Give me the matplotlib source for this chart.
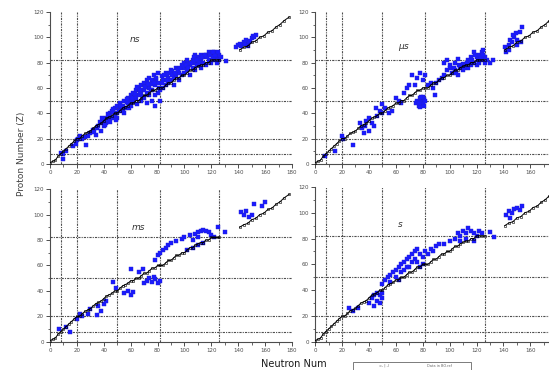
import matplotlib
matplotlib.use("Agg")
import matplotlib.pyplot as plt
from matplotlib.patches import Rectangle
from matplotlib.ticker import MultipleLocator

# magic numbers (dotted guide lines)
magic_n = [8, 20, 50, 82, 126]
magic_z = [8, 20, 50, 82]

# black reference line (N, Z), two segments
line1_n = [0, 2, 4, 6, 8, 10, 12, 14, 16, 18, 20, 22, 24, 26, 28, 30, 32, 34, 36, 38,
           40, 42, 44, 46, 48, 50, 52, 54, 56, 58, 60, 62, 64, 66, 68, 70, 72, 74, 76, 78,
           80, 82, 84, 86, 88, 90, 92, 94, 96, 98, 100, 102, 104, 106, 108, 110, 112, 114,
           116, 118, 120, 122, 124, 126]
line1_z = [1, 2, 3, 6, 8, 10, 12, 14, 16, 18, 20, 20, 22, 24, 25, 26, 28, 30, 31, 32,
           34, 36, 37, 38, 40, 40, 42, 44, 45, 46, 48, 48, 50, 50, 52, 54, 54, 56, 58, 58,
           60, 60, 60, 62, 64, 64, 66, 68, 68, 70, 70, 72, 74, 74, 76, 77, 78, 78,
           80, 80, 82, 82, 82, 82]
line2_n = [141, 144, 147, 150, 153, 156, 159, 162, 165, 168, 171, 174, 178]
line2_z = [90, 92, 93, 96, 97, 100, 101, 104, 105, 108, 110, 113, 116]

# blue points per panel
ns_n = [8, 10, 10, 12, 17, 19, 20, 21, 22, 24, 26, 27, 28, 30, 32, 34, 35, 36, 38, 38,
        40, 40, 42, 42, 44, 44, 45, 46, 46, 48, 48, 50, 50, 50, 52, 52, 54, 54, 55, 56,
        58, 58, 60, 60, 60, 62, 62, 64, 64, 65, 66, 66, 68, 68, 68, 70, 70, 70, 72, 72,
        72, 74, 74, 74, 76, 76, 76, 77, 78, 78, 78, 80, 80, 80, 82, 82, 84, 84, 86, 86,
        88, 88, 90, 90, 92, 92, 94, 94, 96, 96, 98, 98, 100, 100, 100, 102, 102, 104, 104, 106,
        106, 108, 108, 108, 110, 110, 112, 112, 112, 114, 114, 116, 116, 118, 118, 120, 120, 122, 122, 124,
        124, 126, 126, 131, 138, 140, 142, 144, 145, 146, 148, 150, 152, 153, 147,
        43, 47, 53, 57, 63, 67, 71, 75, 79, 83, 87, 91, 95, 99, 103, 107, 111, 115, 119, 123,
        33, 37, 39, 41, 43, 45, 47, 49, 51, 53, 55, 57, 59, 61, 63, 65, 67, 69, 71, 73,
        75, 77, 79, 81, 83, 85, 87, 89, 91, 93, 95, 97, 101, 103, 105, 107, 109, 111, 113, 117,
        119, 121, 123, 125, 127, 121, 115, 109, 141, 149, 151]
ns_z = [9, 4, 8, 10, 14, 16, 19, 20, 22, 20, 21, 15, 22, 24, 27, 23, 28, 30, 32, 26,
        34, 30, 36, 32, 38, 34, 40, 36, 42, 38, 44, 40, 46, 36, 44, 48, 42, 46, 50, 44,
        48, 52, 46, 50, 54, 49, 56, 52, 58, 47, 54, 60, 50, 56, 62, 52, 58, 64, 48, 56,
        66, 54, 60, 68, 50, 58, 66, 70, 46, 54, 62, 56, 64, 72, 50, 58, 60, 66, 62, 72,
        64, 68, 66, 74, 62, 68, 70, 76, 66, 72, 70, 78, 72, 76, 80, 74, 82, 70, 78, 76,
        82, 74, 80, 86, 78, 84, 76, 82, 86, 80, 84, 78, 86, 82, 88, 80, 86, 82, 88, 84,
        80, 86, 82, 81, 92, 94, 93, 96, 95, 98, 96, 99, 100, 102, 93,
        35, 41, 45, 49, 53, 57, 61, 63, 67, 69, 71, 73, 75, 77, 79, 81, 83, 85, 87, 85,
        25, 33, 36, 31, 39, 33, 43, 35, 42, 46, 40, 51, 44, 52, 55, 61, 58, 53, 61, 63,
        58, 64, 68, 60, 64, 70, 66, 72, 70, 72, 74, 76, 78, 76, 80, 84, 82, 80, 84, 84,
        86, 84, 86, 88, 84, 88, 86, 78, 95, 97, 101]

us_n = [7, 15, 20, 21, 28, 33, 35, 37, 38, 40, 42, 44, 40, 46, 48, 50, 52, 50, 57, 60,
        62, 64, 66, 68, 70, 72, 75, 76, 77, 78, 79, 80, 81, 82, 78, 80, 74, 76, 78, 80,
        82, 88, 90, 92, 94, 96, 98, 89, 96, 98, 100, 104, 106, 110, 114, 116, 102, 104, 106, 108,
        110, 112, 114, 116, 118, 120, 122, 124, 124, 126, 126, 120, 122, 125, 128, 130, 132, 141, 142, 144,
        146, 148, 150, 152, 154, 150, 147, 144, 153, 84, 86, 100, 118,
        36, 45, 55, 77, 79, 81, 103, 107, 109, 113, 117, 119, 121, 123, 125, 115, 111, 105, 145, 149]
us_z = [6, 10, 22, 20, 15, 32, 28, 30, 34, 26, 32, 30, 36, 38, 42, 40, 44, 47, 42, 52,
        50, 48, 56, 60, 62, 70, 48, 50, 46, 52, 49, 47, 51, 50, 45, 53, 62, 68, 72, 66,
        70, 60, 64, 66, 68, 70, 74, 54, 80, 82, 78, 80, 83, 79, 82, 84, 72, 74, 70, 76,
        74, 78, 76, 78, 80, 84, 86, 88, 82, 80, 84, 78, 80, 90, 82, 80, 82, 92, 88, 94,
        96, 100, 98, 104, 108, 94, 102, 90, 96, 62, 64, 76, 88,
        24, 44, 40, 48, 53, 46, 76, 78, 77, 80, 82, 86, 82, 84, 86, 81, 76, 72, 98, 103]

ms_n = [7, 12, 15, 20, 22, 24, 28, 30, 35, 36, 38, 40, 42, 47, 49, 55, 58, 60, 62, 60,
        66, 69, 70, 72, 74, 76, 78, 80, 77, 82, 78, 80, 82, 84, 86, 88, 90, 94, 98, 100,
        104, 108, 110, 112, 114, 116, 118, 120, 106, 110, 102, 106, 110, 114, 122, 125, 130, 142, 144, 146,
        150, 152, 160, 158, 148]
ms_z = [10, 12, 8, 18, 22, 20, 22, 26, 21, 28, 24, 30, 32, 47, 42, 38, 40, 37, 39, 57,
        55, 57, 46, 48, 50, 47, 49, 46, 51, 48, 64, 68, 70, 72, 74, 76, 78, 79, 81, 82,
        84, 85, 86, 87, 88, 87, 86, 84, 80, 82, 72, 74, 76, 78, 82, 90, 86, 102, 100, 103,
        100, 108, 110, 107, 98]

s_n = [25, 28, 32, 40, 42, 44, 46, 48, 50, 48, 50, 46, 44, 50, 52, 54, 56, 58, 60, 62,
       64, 66, 68, 70, 72, 74, 76, 78, 80, 82, 60, 64, 70, 72, 76, 78, 80, 66, 56, 62,
       74, 68, 84, 86, 88, 90, 100, 104, 106, 108, 110, 112, 114, 116, 118, 120, 122, 124, 108, 112,
       118, 96, 92, 133, 130, 142, 144, 146, 148, 150, 152, 154, 145]
s_z = [26, 24, 26, 30, 34, 28, 32, 36, 38, 30, 34, 38, 36, 45, 48, 50, 52, 54, 56, 58,
       60, 62, 64, 66, 68, 70, 72, 68, 66, 70, 50, 54, 58, 62, 62, 58, 60, 56, 46, 48,
       64, 58, 68, 72, 70, 74, 78, 80, 84, 82, 86, 84, 88, 86, 84, 82, 86, 84, 78, 80,
       78, 76, 76, 81, 85, 98, 101, 100, 103, 104, 102, 105, 96]

panels = [
    ("ns", ns_n, ns_z, (63, 98)),
    ("$\\mu s$", us_n, us_z, (66, 92)),
    ("ms", ms_n, ms_z, (66, 90)),
    ("s", s_n, s_z, (63, 91)),
]

fig = plt.figure(figsize=(5.49, 3.70), dpi=100)
w = 0.441
pos = [
    [0.091, 0.557, w, 0.411],
    [0.574, 0.557, w, 0.411],
    [0.091, 0.076, w, 0.413],
    [0.574, 0.076, w, 0.419],
]

for i, ((label, bn, bz, lpos), p) in enumerate(zip(panels, pos)):
    ax = fig.add_axes(p)
    for n in magic_n:
        ax.axvline(n, color="0.3", lw=0.8, ls=(0, (2, 1, 1, 1)), zorder=1)
    for z in magic_z:
        ax.axhline(z, color="0.3", lw=0.8, ls=(0, (2, 1, 1, 1)), zorder=1)
    ax.plot(bn, bz, "s", color="#1a1aff", ms=2.6, mec="#2020d0", mew=0.3, ls="none", zorder=2)
    ax.plot(line1_n, line1_z, "-s", color="black", lw=0.7, ms=1.6, mfc="none", mew=0.4, zorder=3)
    ax.plot(line2_n, line2_z, "-s", color="black", lw=0.7, ms=1.6, mfc="none", mew=0.4, zorder=3)
    ax.text(lpos[0], lpos[1], label, fontsize=6.5, style="italic", color="0.2",
            ha="center", va="center")
    ax.set_xlim(0, 180)
    ax.set_ylim(0, 120)
    ax.xaxis.set_major_locator(MultipleLocator(20))
    ax.xaxis.set_minor_locator(MultipleLocator(10))
    ax.yaxis.set_major_locator(MultipleLocator(20))
    ax.yaxis.set_minor_locator(MultipleLocator(10))
    if i % 2 == 1:
        # the 180 label falls outside the picture on the right panels
        ax.set_xticks(range(0, 181, 20), [str(v) if v < 180 else "" for v in range(0, 181, 20)])
    ax.tick_params(which="major", length=3, width=0.7, labelsize=4, colors="0.3", pad=1.5)
    ax.tick_params(which="minor", length=1.8, width=0.6, colors="0.3")
    for s in ["top", "right"]:
        ax.spines[s].set_visible(False)
    for s in ["left", "bottom"]:
        ax.spines[s].set_color("0.3")
        ax.spines[s].set_linewidth(0.8)
    ax.patch.set_alpha(0)

fig.text(0.04, 0.585, "Proton Number (Z)", rotation=90, fontsize=6.5, color="0.25",
         ha="center", va="center")
fig.text(0.535, 0.016, "Neutron Num", fontsize=7, color="0.1", ha="center", va="center")

# small inset box at the bottom
fig.patches.append(Rectangle((0.643, -0.01), 0.215, 0.032, transform=fig.transFigure,
                             fill=False, ec="0.4", lw=0.6))
fig.text(0.70, 0.012, "=- | -/", fontsize=2.5, color="0.3", ha="center", va="center")
fig.text(0.80, 0.012, "Data in BO.ref", fontsize=2.5, color="0.4", ha="center", va="center")

fig.savefig("out.png", dpi=100)
